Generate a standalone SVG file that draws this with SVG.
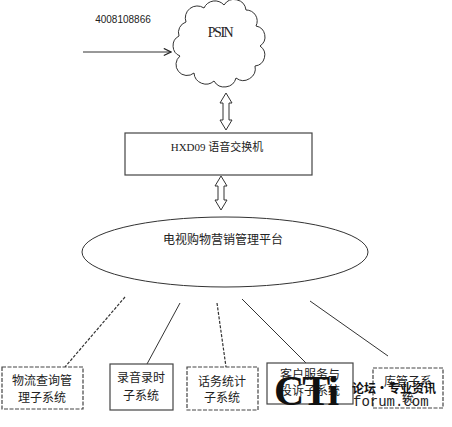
<svg xmlns="http://www.w3.org/2000/svg" width="452" height="427" viewBox="0 0 452 427">
<defs>
<style>
.ln{fill:none;stroke:#333;stroke-width:1}
.dash{fill:none;stroke:#333;stroke-width:1.2;stroke-dasharray:3,1.5}
.box{fill:#fff;stroke:#444;stroke-width:1.2}
.dbox{fill:#fff;stroke:#444;stroke-width:1.2;stroke-dasharray:4,1.5}
.cn{font-family:"Noto Sans CJK SC","Noto Sans",sans-serif;font-size:12px;fill:#222;text-anchor:middle}
.sf{font-family:"Liberation Serif","Noto Sans CJK SC",serif;fill:#222;text-anchor:middle}
</style>
<marker id="open" viewBox="0 0 10 10" refX="9" refY="5" markerWidth="9" markerHeight="9" orient="auto" markerUnits="userSpaceOnUse">
<path d="M1,1 L9,5 L1,9" fill="none" stroke="#222" stroke-width="1.3"/>
</marker>
</defs>
<rect width="452" height="427" fill="#fff"/>

<g id="phone-number">
<text x="123" y="23" font-family="Liberation Sans, sans-serif" font-size="10" fill="#222" text-anchor="middle">4008108866</text>
</g>

<g id="psin">
<path class="ln" d="M186 22 A12 12 0 0 1 204 8 A12 12 0 0 1 224 5 A12 12 0 0 1 246 10 A11 11 0 0 1 256 26 A11 11 0 0 1 260 46 A11 11 0 0 1 255 66 A12 12 0 0 1 236 78 A12 12 0 0 1 214 81 A12 12 0 0 1 194 73 A11 11 0 0 1 180 56 A11 11 0 0 1 179 36 A11 11 0 0 1 186 22 Z"/>
<text class="sf" x="220" y="37" font-size="14" letter-spacing="-1.5">PSIN</text>
</g>

<g id="switch">
<rect class="box" x="125" y="133" width="187" height="42"/>
<text class="sf" x="217" y="151" font-size="11">HXD09 <tspan font-family="Noto Sans CJK SC, sans-serif">语音交换机</tspan></text>
</g>

<g id="platform">
<ellipse cx="225" cy="252" rx="143" ry="35" fill="#fff" stroke="#333" stroke-width="1"/>
<text class="cn" x="223" y="244" font-size="11">电视购物营销管理平台</text>
</g>

<g id="connectors">
<line class="ln" x1="83" y1="52" x2="171" y2="52" marker-end="url(#open)"/>
<path class="ln" d="M226 93 L232 103 L229 103 L229 120 L232 120 L226 130 L220 120 L223 120 L223 103 L220 103 Z"/>
<path class="ln" d="M221 176 L227 186 L224 186 L224 200 L227 200 L221 210 L215 200 L218 200 L218 186 L215 186 Z"/>
<line class="dash" x1="125" y1="297" x2="65" y2="367"/>
<line class="ln" x1="180" y1="303" x2="147" y2="364"/>
<line class="dash" x1="217" y1="303" x2="226" y2="367"/>
<line class="ln" x1="242" y1="299" x2="306" y2="363"/>
<line class="ln" x1="310" y1="301" x2="388" y2="356"/>
</g>

<g id="logistics">
<rect class="dbox" x="2" y="367" width="81" height="42"/>
<text class="cn" x="42" y="385">物流查询管</text>
<text class="cn" x="42" y="402">理子系统</text>
</g>

<g id="recording">
<rect class="box" x="110" y="364" width="63" height="46"/>
<text class="cn" x="141" y="382">录音录时</text>
<text class="cn" x="141" y="400">子系统</text>
</g>

<g id="traffic">
<rect class="dbox" x="187" y="367" width="71" height="43"/>
<text class="cn" x="222" y="386">话务统计</text>
<text class="cn" x="222" y="402">子系统</text>
</g>

<g id="service">
<rect class="box" x="267" y="363" width="86" height="41"/>
<text class="cn" x="310" y="379">客户服务与</text>
<text class="cn" x="310" y="395">投诉子系统</text>
</g>

<g id="warehouse">
<rect class="dbox" x="373" y="368" width="70" height="40"/>
<text class="cn" x="408" y="386">库管子系</text>
<text class="cn" x="408" y="402">统</text>
</g>

<g id="watermark">
<text x="274" y="405" font-family="Liberation Serif, serif" font-size="42" font-weight="bold" fill="#111" letter-spacing="-2">CTi</text>
<text x="352" y="393" font-family="Noto Sans CJK SC, sans-serif" font-size="12" font-weight="bold" fill="#111">论坛·专业资讯</text>
<text x="353" y="406" font-family="Liberation Mono, monospace" font-size="14" fill="#222">forum.com</text>
</g>
</svg>
